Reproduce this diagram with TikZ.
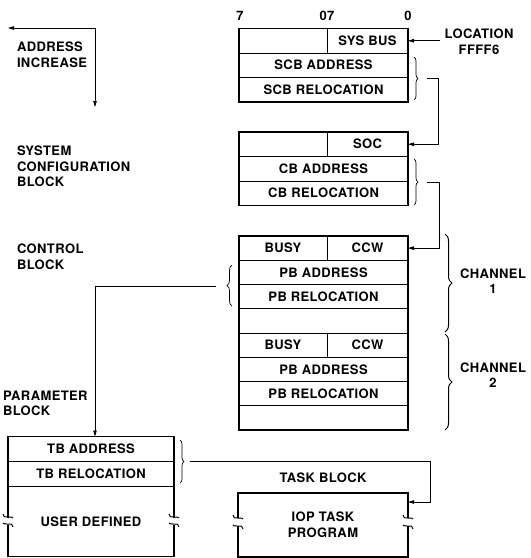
\documentclass[tikz,border=0pt]{standalone}
\usepackage{fontspec}
\setmainfont{TeX Gyre Heros}[LetterSpace=3]
\usetikzlibrary{positioning,arrows.meta,decorations.pathreplacing}

\begin{document}
\begin{tikzpicture}
[x=1pt,y=-1pt
,node distance=0pt
,every node/.style={font=\bfseries\fontsize{13}{15.5}\selectfont,inner sep=0pt,outer sep=0pt}
,cell/.style={draw,line width=.8pt,minimum width=169pt,minimum height=24.5pt,anchor=north west}
,half/.style={cell,minimum width=#1}
,crow/.style={cell,minimum height=24.25pt}
,chalf/.style={half=#1,minimum height=24.25pt}
,blockframe/.style={line width=1.8pt}
,lbl/.style={align=left,anchor=north west}
,link/.style={line width=.8pt,-{Triangle[length=6pt,width=3.5pt]}}
,brc/.style={decorate,decoration={brace,amplitude=#1},line width=.7pt}
,brk/.style={line width=1pt}
]
\useasboundingbox (0,0) rectangle (531,558);

\node[anchor=base] (b7)  at (240,20) {7};
\node[anchor=base] (b07) at (327,20) {07};
\node[anchor=base] (b0)  at (408,20) {0};

\node[lbl] (addrinc) at (17,42)    {ADDRESS\\INCREASE};
\node[lbl] (scblbl)  at (17,146)   {SYSTEM\\CONFIGURATION\\BLOCK};
\node[lbl] (cblbl)   at (17,244)   {CONTROL\\BLOCK};
\node[lbl] (pblbl)   at (3,391)    {PARAMETER\\BLOCK};
\node[align=center,anchor=north] (loc) at (479,29) {LOCATION\\FFFF6};
\node[align=center] (chan1) at (493,281) {CHANNEL\\1};
\node[align=center] (chan2) at (493,375) {CHANNEL\\2};
\node[anchor=base] (tasklbl) at (323,482) {TASK BLOCK};

\node[half=88pt] (sysfree) at (239,28.5) {};
\node[half=81pt] (sysbus)  at (327,28.5) {SYS BUS};
\node[cell]      (scbadr)  at (239,53)   {SCB ADDRESS};
\node[cell,below=of scbadr] (scbrel) {SCB RELOCATION};
\draw[blockframe] (sysfree.north west) rectangle (scbrel.south east);

\node[half=88pt] (socfree) at (239,132)   {};
\node[half=81pt] (soc)     at (327,132)   {SOC};
\node[cell]      (cbadr)   at (239,156.5) {CB ADDRESS};
\node[cell,below=of cbadr] (cbrel) {CB RELOCATION};
\draw[blockframe] (socfree.north west) rectangle (cbrel.south east);

\node[chalf=88pt] (busya)  at (239,236)    {BUSY};
\node[chalf=81pt] (ccwa)   at (327,236)    {CCW};
\node[crow]       (pbadra) at (239,260.25) {PB ADDRESS};
\node[crow,below=of pbadra] (pbrela) {PB RELOCATION};
\node[crow,below=of pbrela] (sparea) {};
\node[chalf=88pt] (busyb)  at (sparea.south west) {BUSY};
\node[chalf=81pt] (ccwb)   at (busyb.north east)  {CCW};
\node[crow]       (pbadrb) at (busyb.south west)  {PB ADDRESS};
\node[crow,below=of pbadrb] (pbrelb) {PB RELOCATION};
\node[crow,below=of pbrelb] (spareb) {};
\draw[blockframe] (busya.north west) rectangle (spareb.south east);

\node[cell,minimum width=166pt,minimum height=25pt] (tbadr) at (8,436.5) {TB ADDRESS};
\node[cell,minimum width=166pt,minimum height=25pt,below=of tbadr] (tbrel) {TB RELOCATION};
\node[cell,draw=none,minimum width=166pt,minimum height=70pt,below=of tbrel] (user) {USER DEFINED};
\draw[blockframe] ([yshift=4pt]user.west) -- (tbadr.north west) -- (tbadr.north east) -- ([yshift=4pt]user.east)
                  ([yshift=-3pt]user.east) -- (user.south east) -- (user.south west) -- ([yshift=-3pt]user.west);

\node[cell,draw=none,minimum width=170pt,minimum height=64pt,align=center] (iop) at (238,493) {IOP TASK\\PROGRAM};
\draw[blockframe] ([yshift=7pt]iop.west) -- (iop.north west) -- (iop.north east) -- ([yshift=7pt]iop.east)
                  ([yshift=-1pt]iop.east) -- (iop.south east) -- (iop.south west) -- ([yshift=-1pt]iop.west);

\foreach \x/\ya/\yb in {8/517/524,174/517/524,238/518/526,408/518/526}
{
  \draw[brk] (\x-5,\ya-3) .. controls (\x-4,\ya) .. (\x,\ya) .. controls (\x+4,\ya) .. (\x+5,\ya+1);
  \draw[brk] (\x-5,\yb-1) .. controls (\x-4,\yb) .. (\x,\yb) .. controls (\x+4,\yb) .. (\x+5,\yb+3);
}

\draw[brc=4pt] (414,57) -- (414,100);
\draw[brc=4pt] (414,159) -- (414,205);
\draw[brc=7pt,line width=1pt] (445,234) -- (445,332);
\draw[brc=7pt,line width=1pt] (445,334) -- (445,430);
\draw[brc=5pt] (232,306) -- (232,265);
\draw[brc=4pt] (180,440) -- (180,483);

\coordinate (scbtip) at (427,78);
\coordinate (cbtip)  at (427,182);
\coordinate (pbtip)  at (216,286);
\coordinate (tbtip)  at (190,461.5);
\coordinate (inc)    at (95,28);
\coordinate (incl)   at (8,28);
\coordinate (incd)   at (95,107);

\draw[link] (inc) -- (incl);
\draw[link] (inc) -- (incd);
\draw[link] ([xshift=32pt]sysbus.east) -- (sysbus.east);
\draw[link] (scbtip) -| ([xshift=30pt]soc.east) -- (soc.east);
\draw[link] (cbtip) -| ([xshift=31pt]ccwa.east) -- (ccwa.east);
\draw[link] (pbtip) -| (inc |- tbadr.north);
\draw[link] (tbtip) -| ([xshift=22pt,yshift=-9pt]iop.north east) -- ([yshift=-9pt]iop.north east);

\end{tikzpicture}
\end{document}
